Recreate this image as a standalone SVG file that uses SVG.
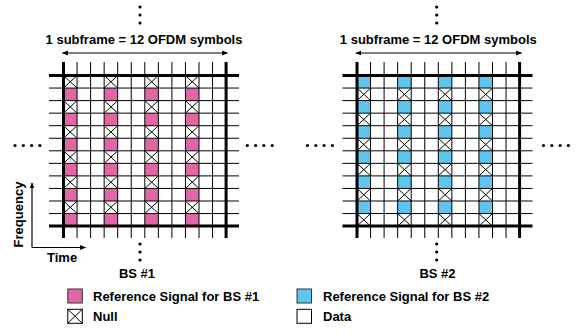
<svg xmlns="http://www.w3.org/2000/svg" xmlns:xlink="http://www.w3.org/1999/xlink" width="587" height="333" viewBox="0 0 587 333">
<style>
text{font-family:"Liberation Sans",Arial,sans-serif;font-weight:bold;font-size:13px;fill:#000}
.g{stroke:#000;stroke-width:1;fill:none}
.t{stroke:#000;stroke-width:3;fill:none}
.x{stroke:#000;stroke-width:1;fill:none}
.pk{fill:#E066A6}
.bl{fill:#5EC6EE}
.dot{fill:#000}
.ax{stroke:#000;stroke-width:1.2;fill:none}
</style>
<defs>
<marker id="ah" viewBox="0 0 10 10" refX="9" refY="5" markerWidth="6" markerHeight="6" orient="auto-start-reverse" markerUnits="userSpaceOnUse"><path d="M0,1L10,5L0,9z" fill="#000"/></marker>
<path id="xm" class="x" d="M0 0L13.55 12.55M13.55 0L0 12.55"/>
<g id="col1">
<use href="#xm" y="75.5"/><use href="#xm" y="100.6"/><use href="#xm" y="125.7"/><use href="#xm" y="150.8"/><use href="#xm" y="175.9"/><use href="#xm" y="201"/>
<rect class="pk" y="88.05" width="13.55" height="12.55"/><rect class="pk" y="113.15" width="13.55" height="12.55"/><rect class="pk" y="138.25" width="13.55" height="12.55"/><rect class="pk" y="163.35" width="13.55" height="12.55"/><rect class="pk" y="188.45" width="13.55" height="12.55"/><rect class="pk" y="213.55" width="13.55" height="12.55"/>
</g>
<g id="col2">
<rect class="bl" y="75.5" width="13.55" height="12.55"/><rect class="bl" y="100.6" width="13.55" height="12.55"/><rect class="bl" y="125.7" width="13.55" height="12.55"/><rect class="bl" y="150.8" width="13.55" height="12.55"/><rect class="bl" y="175.9" width="13.55" height="12.55"/><rect class="bl" y="201" width="13.55" height="12.55"/>
<use href="#xm" y="88.05"/><use href="#xm" y="113.15"/><use href="#xm" y="138.25"/><use href="#xm" y="163.35"/><use href="#xm" y="188.45"/><use href="#xm" y="213.55"/>
</g>
<g id="lines">
<path class="g" d="M77.05 62V238M90.6 62V238M104.15 62V238M117.7 62V238M131.25 62V238M144.8 62V238M158.35 62V238M171.9 62V238M185.45 62V238M199 62V238M212.55 62V238"/>
<path class="g" d="M49 88.05H239M49 100.6H239M49 113.15H239M49 125.7H239M49 138.25H239M49 150.8H239M49 163.35H239M49 175.9H239M49 188.45H239M49 201H239M49 213.55H239"/>
<path class="t" d="M63.5 62V238M226.1 62V238M49 75.5H239M49 226.1H239"/>
</g>
</defs>

<g id="bs1">
<use href="#col1" x="63.5"/><use href="#col1" x="104.15"/><use href="#col1" x="144.8"/><use href="#col1" x="185.45"/>
<use href="#lines"/>
<circle class="dot" cx="140" cy="7" r="1.6"/><circle class="dot" cx="140" cy="15" r="1.6"/><circle class="dot" cx="140" cy="23" r="1.6"/>
<text x="144" y="44" text-anchor="middle">1 subframe = 12 OFDM symbols</text>
<circle class="dot" cx="15" cy="145.5" r="1.6"/><circle class="dot" cx="23.3" cy="145.5" r="1.6"/><circle class="dot" cx="31.6" cy="145.5" r="1.6"/><circle class="dot" cx="39.9" cy="145.5" r="1.6"/>
<circle class="dot" cx="247.3" cy="145.5" r="1.6"/><circle class="dot" cx="255.6" cy="145.5" r="1.6"/><circle class="dot" cx="263.9" cy="145.5" r="1.6"/><circle class="dot" cx="272.2" cy="145.5" r="1.6"/>
<circle class="dot" cx="140" cy="244" r="1.6"/><circle class="dot" cx="140" cy="252" r="1.6"/><circle class="dot" cx="140" cy="260" r="1.6"/>
<text x="137" y="278" text-anchor="middle">BS #1</text>
</g>

<g id="bs2">
<use href="#col2" x="357"/><use href="#col2" x="397.65"/><use href="#col2" x="438.3"/><use href="#col2" x="478.95"/>
<use href="#lines" x="293.5"/>
<circle class="dot" cx="436.7" cy="7" r="1.6"/><circle class="dot" cx="436.7" cy="15" r="1.6"/><circle class="dot" cx="436.7" cy="23" r="1.6"/>
<text x="438.3" y="44" text-anchor="middle">1 subframe = 12 OFDM symbols</text>
<circle class="dot" cx="307.5" cy="145.5" r="1.6"/><circle class="dot" cx="315.8" cy="145.5" r="1.6"/><circle class="dot" cx="324.1" cy="145.5" r="1.6"/><circle class="dot" cx="332.4" cy="145.5" r="1.6"/>
<circle class="dot" cx="543.5" cy="145.5" r="1.6"/><circle class="dot" cx="551.8" cy="145.5" r="1.6"/><circle class="dot" cx="560.1" cy="145.5" r="1.6"/><circle class="dot" cx="568.4" cy="145.5" r="1.6"/>
<circle class="dot" cx="436.7" cy="244" r="1.6"/><circle class="dot" cx="436.7" cy="252" r="1.6"/><circle class="dot" cx="436.7" cy="260" r="1.6"/>
<text x="437.5" y="278" text-anchor="middle">BS #2</text>
</g>

<g id="axes">
<text transform="translate(23,214.5) rotate(-90)" text-anchor="middle">Frequency</text>
<text x="47" y="262">Time</text>
</g>

<g id="connectors">
<path class="ax" d="M62.5 53H227.5" marker-start="url(#ah)" marker-end="url(#ah)"/>
<path class="ax" d="M356 53H521.5" marker-start="url(#ah)" marker-end="url(#ah)"/>
<path class="ax" d="M32 247.5V183" marker-end="url(#ah)"/>
<path class="ax" d="M32 247.5H85.5" marker-end="url(#ah)"/>
</g>

<g id="legend">
<rect x="67.8" y="289" width="14.5" height="14" fill="#E066A6" stroke="#333" stroke-width="1"/>
<text x="93" y="300.5">Reference Signal for BS #1</text>
<rect x="67.8" y="309.3" width="14.5" height="14" fill="#fff" stroke="#000" stroke-width="1"/>
<path class="x" d="M67.8 309.3L82.3 323.3M82.3 309.3L67.8 323.3"/>
<text x="93" y="320.5">Null</text>
<rect x="297" y="289" width="14.5" height="14" fill="#5EC6EE" stroke="#333" stroke-width="1"/>
<text x="323" y="300.5">Reference Signal for BS #2</text>
<rect x="297" y="309.3" width="14.5" height="14" fill="#fff" stroke="#000" stroke-width="1"/>
<text x="323" y="320.5">Data</text>
</g>
</svg>
